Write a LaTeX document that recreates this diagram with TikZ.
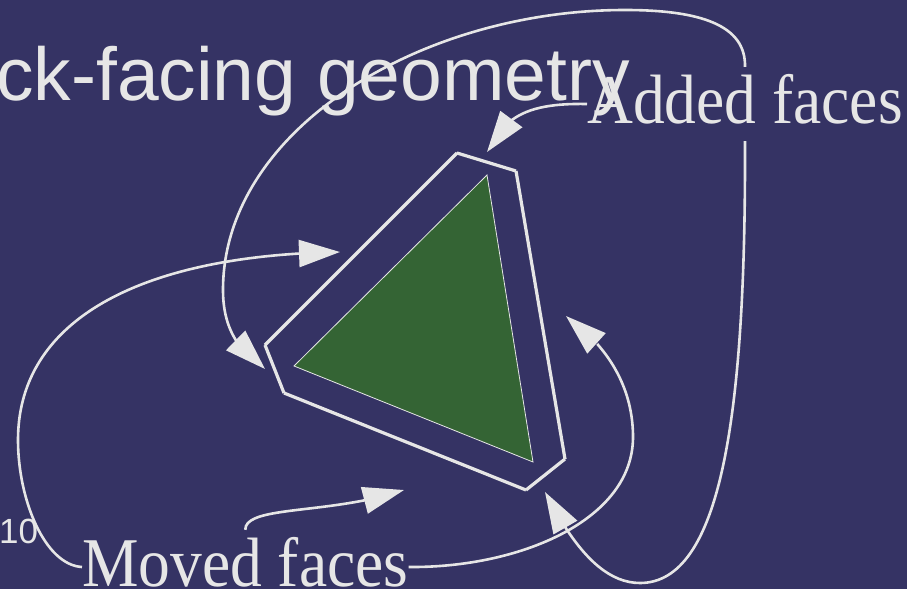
\documentclass[tikz,border=0pt]{standalone}
\usepackage{fontspec}
\newfontfamily\sansf{Liberation Sans}
\newfontfamily\seriff{Liberation Serif}
\usetikzlibrary{arrows.meta,bending}
\definecolor{bg}{RGB}{53,51,100}
\definecolor{fg}{RGB}{230,230,230}
\definecolor{tri}{RGB}{52,100,52}
\begin{document}
\begin{tikzpicture}[x=1pt,y=-1pt,
  conn/.style={draw=fg, line width=2.6pt, -{Triangle[length=41pt,width=27pt]}},
  hexedge/.style={draw=fg, line width=3.2pt, line cap=butt},
  lbl/.style={text=fg, inner sep=0pt, anchor=base west},
  biglbl/.style={lbl, text height=56pt, text depth=18pt, font=\seriff\fontsize{63.5}{70}\selectfont},
]
\useasboundingbox (0,0) rectangle (907,589);
\fill[bg] (0,0) rectangle (907,589);
\clip (0,0) rectangle (907,589);

% labels
\node[lbl, font=\sansf\fontsize{75}{82}\selectfont] (title) at (-4,100) {ck-facing geometry};
\node[lbl, font=\sansf\fontsize{35}{40}\selectfont] (page) at (-1,543) {10};
\node[biglbl] (added) at (587,123) {\scalebox{1}[1.1]{Added faces}};
\node[biglbl] (moved) at (82,586) {\scalebox{1}[1.1]{Moved faces}};

% triangle
\coordinate (t1) at (487,175);
\coordinate (t2) at (294,366);
\coordinate (t3) at (533,462);
\draw[fill=tri, draw=fg, line width=0.8pt] (t1) -- (t2) -- (t3) -- cycle;

% hexagon of added faces
\coordinate (h1) at (457,153);
\coordinate (h2) at (516,171);
\coordinate (h3) at (565,459);
\coordinate (h4) at (526,490);
\coordinate (h5) at (284,393);
\coordinate (h6) at (265,345);
\draw[hexedge] (h6) -- (h1);
\draw[hexedge] (h1) -- (h2);
\draw[hexedge] (h2) -- (h3);
\draw[hexedge] (h3) -- (h4);
\draw[hexedge] (h4) -- (h5);
\draw[hexedge] (h5) -- (h6);

% arrow tips
\coordinate (a1) at (487,152);
\coordinate (a2) at (265,369);
\coordinate (a3) at (545,492);
\coordinate (m1) at (340,252);
\coordinate (m2) at (404,490);
\coordinate (m3) at (566,316);

% connectors from "Added faces"
\draw[conn] (added.west) .. controls (530,103) and (505,115) .. (a1);
\draw[conn] (added.north) .. controls (746,25) and (700,10) .. (625,10)
  .. controls (420,10) and (223,130) .. (223,290)
  .. controls (223,330) and (240,352) .. (a2);
\draw[conn] (added.south) .. controls (746,420) and (720,583) .. (640,583)
  .. controls (600,583) and (570,540) .. (a3);

% connectors from "Moved faces"
\draw[conn] (moved.west) .. controls (45,565) and (18,500) .. (18,440)
  .. controls (18,320) and (140,255) .. (m1);
\draw[conn] (moved.north) .. controls (245,505) and (330,515) .. (m2);
\draw[conn] (moved.east) .. controls (520,568) and (633,520) .. (633,437)
  .. controls (633,380) and (600,340) .. (m3);
\end{tikzpicture}
\end{document}
